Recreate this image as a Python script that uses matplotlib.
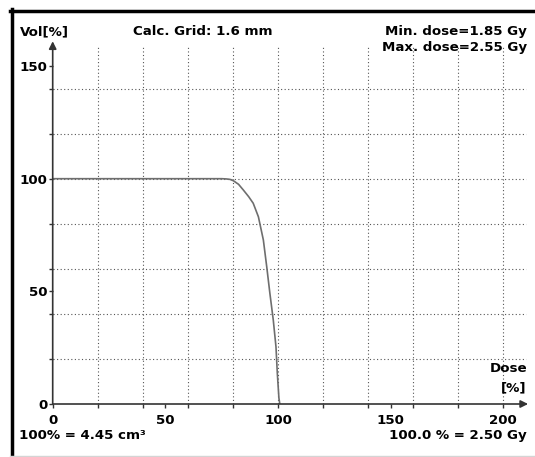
import numpy as np
import matplotlib
matplotlib.use("Agg")
import matplotlib.pyplot as plt
from matplotlib.lines import Line2D

# cumulative DVH (dose in % of 2.50 Gy, volume in %)
dose_pct = [0, 60, 75, 77, 78.7, 80.2, 82.5, 84.6, 87.0, 89.0, 91.3, 93.5,
            95.0, 96.4, 97.9, 99.1, 99.7, 100.4, 100.8]
vol_pct = [100, 100, 100, 99.9, 99.7, 99.1, 97.5, 95.0, 92.0, 89.1, 83.1, 72.8,
           60.9, 49.1, 37.3, 25.4, 13.6, 2.7, 0]

x_ticks = [0, 50, 100, 150, 200]
y_ticks = [0, 50, 100, 150]

W, H = 535, 457
plt.rcParams['font.family'] = ['DejaVu Sans']
plt.rcParams['font.weight'] = 'bold'
plt.rcParams['font.size'] = 9.6

fig = plt.figure(figsize=(W / 100, H / 100), dpi=100)

def fx(px):
    return px / W

def fy(py):
    return 1 - py / H

# axes: x=0 at 52.7px, y=0 at 404px, 2.253 px per unit
x0, y0, s = 52.7, 404.0, 2.253
xmax, ymax = 211.0, 161.0
ax = fig.add_axes([fx(x0), fy(y0), xmax * s / W, ymax * s / H])
ax.set_xlim(0, xmax)
ax.set_ylim(0, ymax)
for sp in ax.spines.values():
    sp.set_visible(False)

# dotted grid
grid_kw = dict(color='#555555', lw=0.8, linestyles=(0, (1, 2.2)))
ax.vlines(np.arange(20, 201, 20), 0, 158.5, **grid_kw)
ax.hlines(np.arange(20, 141, 20), 0, 210, **grid_kw)

# curve
ax.plot(dose_pct, vol_pct, color='#6e6e6e', lw=1.2, zorder=3)

# axes with arrow heads
axis_col = '#333333'
ax.annotate('', xy=(0, ymax), xytext=(0, 0), annotation_clip=False,
            arrowprops=dict(arrowstyle='-|>', color=axis_col, lw=1.2,
                            mutation_scale=11, shrinkA=0, shrinkB=0))
ax.annotate('', xy=(xmax, 0), xytext=(0, 0), annotation_clip=False,
            arrowprops=dict(arrowstyle='-|>', color=axis_col, lw=1.2,
                            mutation_scale=11, shrinkA=0, shrinkB=0))

ax.set_xticks(x_ticks)
ax.set_yticks(y_ticks)
ax.set_xticks(np.arange(20, 201, 20), minor=True)
ax.set_yticks(np.arange(20, 141, 20), minor=True)
ax.tick_params(which='both', direction='out', length=3, width=1, color=axis_col)
ax.tick_params(axis='x', which='major', pad=4)
ax.tick_params(axis='y', which='major', pad=1)

# texts
fig.text(fx(20), fy(35), 'Vol[%]', ha='left', va='baseline')
fig.text(fx(133), fy(35), 'Calc. Grid: 1.6 mm', ha='left', va='baseline')
fig.text(fx(527), fy(35), 'Min. dose=1.85 Gy', ha='right', va='baseline')
fig.text(fx(527), fy(51), 'Max. dose=2.55 Gy', ha='right', va='baseline')
fig.text(fx(527), fy(372), 'Dose', ha='right', va='baseline')
fig.text(fx(526), fy(391), '[%]', ha='right', va='baseline')
fig.text(fx(19), fy(439), '100% = 4.45 cm³', ha='left', va='baseline')
fig.text(fx(527), fy(439), '100.0 % = 2.50 Gy', ha='right', va='baseline')

# window frame
fig.add_artist(Line2D([fx(11.5), fx(11.5)], [fy(9), fy(456)], color='black', lw=2.5))
fig.add_artist(Line2D([fx(10), fx(535)], [fy(10.5), fy(10.5)], color='black', lw=2.5))
fig.add_artist(Line2D([fx(10), fx(535)], [fy(455.5), fy(455.5)], color='#d4d4d4', lw=1))

fig.savefig('out.png', dpi=100)
